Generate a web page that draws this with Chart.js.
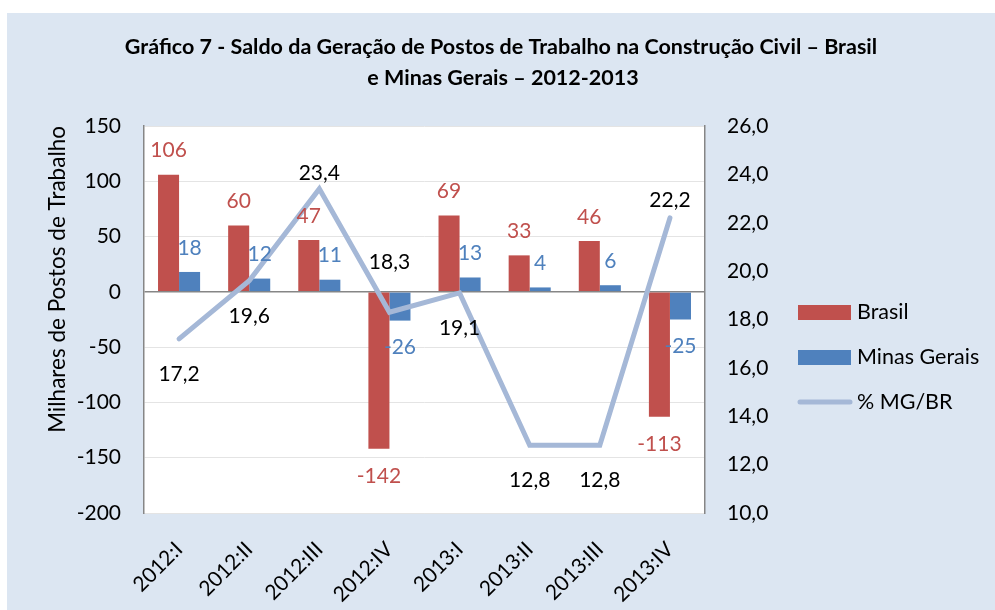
<!DOCTYPE html>
<html>
<head>
<meta charset="utf-8">
<script src="https://cdn.jsdelivr.net/npm/chart.js@4.4.1/dist/chart.umd.min.js"></script>
<style>
  html, body { margin: 0; padding: 0; background: #ffffff; }
  #wrap { width: 995px; height: 610px; position: relative; }
</style>
</head>
<body>
<div id="wrap"><canvas id="chart" width="995" height="610"></canvas></div>
<script>
const categories = ['2012:I', '2012:II', '2012:III', '2012:IV', '2013:I', '2013:II', '2013:III', '2013:IV']
const brasil = [106, 60, 47, -142, 69, 33, 46, -113]
const minasGerais = [18, 12, 11, -26, 13, 4, 6, -25]
const pctMgBr = [17.2, 19.6, 23.4, 18.3, 19.1, 12.8, 12.8, 22.2]

const titleLines = [
  'Gráfico 7 - Saldo da Geração de Postos de Trabalho na Construção Civil – Brasil',
  'e Minas Gerais – 2012-2013'
]

Chart.defaults.font.family = 'Lato, "Open Sans", sans-serif'
Chart.defaults.font.size = 21
Chart.defaults.color = '#000000'

const comma = (v, d) => v.toFixed(d).replace('.', ',')

// background, title, value labels and the legend on the right
const decor = {
  id: 'decor',
  beforeDraw(chart) {
    const {ctx, chartArea: a} = chart
    ctx.save()
    ctx.fillStyle = '#dce6f2'
    ctx.fillRect(7, 13, 988, 597)
    ctx.fillStyle = '#ffffff'
    ctx.fillRect(a.left, a.top, a.right - a.left, a.bottom - a.top)
    ctx.fillStyle = '#000000'
    ctx.font = 'bold 21.5px Lato, sans-serif'
    ctx.textAlign = 'center'
    ctx.textBaseline = 'middle'
    ctx.fillText(titleLines[0], 501, 47)
    ctx.fillText(titleLines[1], 503, 78)
    ctx.restore()
  },
  afterDatasetsDraw(chart, args, opts) {
    const {ctx} = chart
    ctx.save()
    ctx.font = '21px Lato, sans-serif'
    ctx.textAlign = 'center'
    ctx.textBaseline = 'middle'
    chart.data.datasets.forEach((ds, di) => {
      const meta = chart.getDatasetMeta(di)
      meta.data.forEach((el, i) => {
        const v = ds.data[i]
        if (ds.type === 'line') {
          ctx.fillStyle = '#000000'
          ctx.fillText(comma(v, 1), el.x, el.y + opts.lineOffsets[i])
        } else {
          ctx.fillStyle = ds.backgroundColor
          ctx.fillText(String(v), el.x, v >= 0 ? el.y - 24 : el.y + 27)
        }
      })
    })
    // legend: bars first, then the line
    const items = chart.data.datasets.filter(d => d.type === 'bar')
      .concat(chart.data.datasets.filter(d => d.type === 'line'))
    ctx.font = '21.5px Lato, sans-serif'
    items.forEach((ds, i) => {
      const y = 312 + i * 45
      if (ds.type === 'line') {
        ctx.strokeStyle = ds.borderColor
        ctx.lineWidth = 5
        ctx.lineCap = 'round'
        ctx.beginPath()
        ctx.moveTo(800, y)
        ctx.lineTo(850, y)
        ctx.stroke()
      } else {
        ctx.fillStyle = ds.backgroundColor
        ctx.fillRect(798, y - 7, 53, 15)
      }
      ctx.fillStyle = '#000000'
      ctx.textAlign = 'left'
      ctx.fillText(ds.label, 857, y)
    })
    ctx.restore()
  }
}

new Chart(document.getElementById('chart'), {
  data: {
    labels: categories,
    datasets: [
      {
        type: 'line',
        label: '% MG/BR',
        data: pctMgBr,
        yAxisID: 'y2',
        borderColor: '#a5b8d7',
        borderWidth: 5,
        borderCapStyle: 'round',
        pointRadius: 0,
        tension: 0,
        order: 0
      },
      {
        type: 'bar',
        label: 'Brasil',
        data: brasil,
        yAxisID: 'y',
        backgroundColor: '#c0504d',
        categoryPercentage: 0.6,
        barPercentage: 1.0,
        order: 1
      },
      {
        type: 'bar',
        label: 'Minas Gerais',
        data: minasGerais,
        yAxisID: 'y',
        backgroundColor: '#4f81bd',
        categoryPercentage: 0.6,
        barPercentage: 1.0,
        order: 1
      }
    ]
  },
  options: {
    responsive: false,
    animation: false,
    layout: { padding: { top: 126, left: 0, right: 0, bottom: 0 } },
    plugins: {
      legend: { display: false },
      tooltip: { enabled: false },
      decor: { lineOffsets: [35, 35, -16, -50, 35, 35, 35, -18] }
    },
    scales: {
      x: {
        grid: { display: false },
        border: { display: false },
        ticks: { minRotation: 45, maxRotation: 45, padding: 16 },
        afterFit: s => { s.height = 97 }
      },
      y: {
        position: 'left',
        min: -200,
        max: 150,
        ticks: { stepSize: 50, padding: 23 },
        grid: {
          drawTicks: false,
          color: ctx => ctx.tick && ctx.tick.value === 0 ? '#868686' : '#e4e4e4',
          lineWidth: ctx => ctx.tick && ctx.tick.value === 0 ? 1.5 : 1
        },
        border: { color: '#868686', width: 1.5 },
        title: {
          display: true,
          text: 'Milhares de Postos de Trabalho',
          align: 'end',
          font: { size: 22.5 },
          padding: { top: 44 }
        },
        afterFit: s => { s.width = 144 }
      },
      y2: {
        position: 'right',
        min: 10,
        max: 26,
        ticks: { stepSize: 2, padding: 22, callback: v => comma(v, 1) },
        grid: { drawOnChartArea: false, drawTicks: false },
        border: { color: '#868686', width: 1.5 },
        afterFit: s => { s.width = 290 }
      }
    }
  },
  plugins: [decor]
})
</script>
</body>
</html>
